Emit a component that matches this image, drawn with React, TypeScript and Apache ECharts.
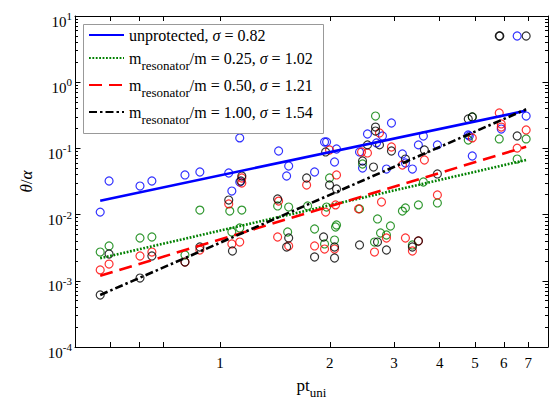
import React, { useEffect, useRef } from "react";
import * as echarts from "echarts";

// ---------- data ----------
const xRange = [0.4, 7.93];
const yRange = [1e-4, 10];
const xLabelValues = [1, 2, 3, 4, 5, 6, 7];
const xTickValues = [0.5, 0.6, 0.7, 1, 2, 3, 4, 5, 6, 7];
const yDecades = [-4, -3, -2, -1, 0, 1];
const yMinorMultipliers = [2, 3, 4, 5, 6, 7, 8, 9];

const unprotectedPts: [number, number][] = [
  [0.469, 0.0109], [0.496, 0.0322], [0.603, 0.027], [0.65, 0.0322], [0.801, 0.0397],
  [0.88, 0.044], [1.056, 0.0425], [1.077, 0.0227], [1.132, 0.144], [1.132, 0.0311],
  [1.447, 0.0914], [1.542, 0.0542], [1.522, 0.0383], [1.816, 0.044], [1.934, 0.125],
  [1.959, 0.125], [2.086, 0.098], [2.06, 0.0623], [2.412, 0.0883], [2.458, 0.0505],
  [2.536, 0.165], [2.685, 0.121], [2.788, 0.154], [2.859, 0.0488], [2.951, 0.242],
  [3.162, 0.0823], [3.223, 0.0602], [3.368, 0.0488], [3.498, 0.113], [3.61, 0.154],
  [3.944, 0.113], [4.824, 0.154], [4.79, 0.16], [4.916, 0.0768], [5.903, 0.196],
  [6.908, 0.308], [6.527, 4.99],
];
const ratio025Pts: [number, number][] = [
  [0.469, 0.00272], [0.496, 0.00336], [0.603, 0.00443], [0.65, 0.00459], [0.801, 0.00245],
  [0.88, 0.0117], [1.063, 0.0113], [1.147, 0.0117], [1.077, 0.00546], [1.132, 0.00628],
  [1.438, 0.0135], [1.542, 0.013], [1.532, 0.00546], [1.738, 0.0135], [1.816, 0.00606],
  [1.959, 0.013], [1.996, 0.0357], [1.934, 0.0036], [2.06, 0.00413], [2.073, 0.0065],
  [2.086, 0.00697], [2.412, 0.0122], [2.458, 0.0581], [2.651, 0.00385], [2.668, 0.308],
  [2.702, 0.00859], [2.754, 0.00527], [2.859, 0.00492], [2.932, 0.00673], [3.162, 0.0113],
  [3.223, 0.0126], [3.368, 0.00348], [3.498, 0.014], [3.61, 0.0311], [3.944, 0.015],
  [4.793, 0.134], [4.916, 0.298], [5.829, 0.139], [6.527, 0.0691], [6.908, 0.139],
];
const ratio050Pts: [number, number][] = [
  [0.469, 0.00146], [0.496, 0.00179], [0.603, 0.00237], [0.65, 0.00272], [0.801, 0.00192],
  [0.88, 0.00292], [1.056, 0.0145], [1.077, 0.0036], [1.132, 0.00385], [1.147, 0.0357],
  [1.147, 0.03], [1.438, 0.00459], [1.447, 0.016], [1.542, 0.00336], [1.727, 0.028],
  [1.816, 0.00336], [1.934, 0.00302], [1.947, 0.0109], [1.996, 0.0946], [2.073, 0.014],
  [2.086, 0.0397], [2.06, 0.00302], [2.397, 0.0122], [2.443, 0.0883], [2.536, 0.0853],
  [2.651, 0.00272], [2.736, 0.171], [2.771, 0.0155], [2.859, 0.00443], [2.951, 0.105],
  [3.162, 0.0561], [3.223, 0.00443], [3.368, 0.00282], [3.498, 0.00399], [3.633, 0.0668],
  [3.944, 0.0198], [4.916, 0.144], [5.829, 0.343], [5.903, 0.234], [5.903, 0.21],
  [6.527, 0.101], [6.908, 0.19],
];
const ratio100Pts: [number, number][] = [
  [0.469, 0.00061], [0.496, 0.00254], [0.603, 0.0011], [0.65, 0.00237], [0.801, 0.00192],
  [0.88, 0.00324], [1.056, 0.0166], [1.081, 0.00282], [1.147, 0.0383], [1.14, 0.0322],
  [1.438, 0.0172], [1.542, 0.00443], [1.522, 0.00324], [1.727, 0.0357], [1.816, 0.00229],
  [1.922, 0.00459], [1.947, 0.0883], [1.996, 0.028], [2.086, 0.0244], [2.06, 0.00324],
  [2.06, 0.00221], [2.412, 0.00348], [2.458, 0.0645], [2.536, 0.113], [2.634, 0.0523],
  [2.668, 0.21], [2.668, 0.183], [2.702, 0.00385], [2.736, 0.113], [2.859, 0.00292],
  [2.951, 0.0914], [3.223, 0.0691], [3.368, 0.00324], [3.498, 0.00399], [3.633, 0.0946],
  [3.944, 0.0411], [4.793, 0.278], [4.916, 0.298], [5.829, 4.99], [5.85, 4.99],
  [6.527, 0.154], [6.908, 4.99],
];

const fitX = [0.469, 6.908];
const fitUnprotected = [0.0162, 0.372];
const fitRatio025 = [0.00219, 0.0668];
const fitRatio050 = [0.00119, 0.106];
const fitRatio100 = [0.00061, 0.39];

const legendRatios = ["", "0.25", "0.50", "1.00"];
const legendSigmas = ["0.82", "1.02", "1.21", "1.54"];
const legendNames = [
  "unprotected, σ = 0.82",
  "m_resonator/m = 0.25, σ = 1.02",
  "m_resonator/m = 0.50, σ = 1.21",
  "m_resonator/m = 1.00, σ = 1.54",
];

// ---------- chart ----------
const SERIF = "Liberation Serif, Times New Roman, DejaVu Serif, serif";
const lg = (v: number) => Math.log10(v);

export default function App() {
  const ref = useRef<HTMLDivElement>(null);

  useEffect(() => {
    if (!ref.current) return;
    const chart = echarts.init(ref.current, undefined, { renderer: "svg" });

    const xMin = lg(xRange[0]);
    const xMax = lg(xRange[1]);
    const yMin = lg(yRange[0]);
    const yMax = lg(yRange[1]);

    const yMinorValues: number[] = [];
    yDecades.slice(0, -1).forEach((d) => {
      yMinorMultipliers.forEach((m) => yMinorValues.push(lg(m * Math.pow(10, d))));
    });

    const axisLine = { show: true, onZero: false, lineStyle: { color: "#000", width: 1 } };
    const noLine = { show: false, onZero: false };

    const xBase = {
      type: "value",
      min: xMin,
      max: xMax,
      axisLine,
      splitLine: { show: false },
      axisTick: {
        show: true,
        inside: true,
        length: 5,
        customValues: xTickValues.map(lg),
        lineStyle: { color: "#000", width: 1 },
      },
    };

    const yBase = {
      type: "value",
      min: yMin,
      max: yMax,
      interval: 1,
      splitLine: { show: false },
    };

    const yMajorTick = {
      show: true,
      inside: true,
      length: 5.5,
      customValues: yDecades,
      lineStyle: { color: "#000", width: 1 },
    };
    const yMinorTick = {
      show: true,
      inside: true,
      length: 3,
      customValues: yMinorValues,
      lineStyle: { color: "#000", width: 1 },
    };

    const toPairs = (pts: [number, number][]) => pts.map(([x, y]) => [lg(x), lg(y)]);
    const fitLine = (ys: number[]) => [
      [lg(fitX[0]), lg(ys[0])],
      [lg(fitX[1]), lg(ys[1])],
    ];

    const scatter = (pts: [number, number][], color: string) => ({
      type: "scatter",
      xAxisIndex: 0,
      yAxisIndex: 0,
      data: toPairs(pts),
      symbol: "circle",
      symbolSize: 8,
      silent: true,
      z: 2,
      itemStyle: { color: "rgba(0,0,0,0)", borderColor: color, borderWidth: 1.2 },
    });

    const line = (name: string, ys: number[], color: string, type: any) => ({
      type: "line",
      name,
      xAxisIndex: 0,
      yAxisIndex: 0,
      data: fitLine(ys),
      symbol: "none",
      showSymbol: false,
      silent: true,
      z: 3,
      lineStyle: { color, width: 2.6, type, cap: "butt" },
      itemStyle: { color },
    });

    const legendRich = {
      a: { fontFamily: SERIF, fontSize: 16, color: "#000", lineHeight: 18, verticalAlign: "middle" },
      ai: { fontFamily: SERIF, fontSize: 16, color: "#000", fontStyle: "italic", lineHeight: 18, verticalAlign: "middle" },
      t: { fontFamily: SERIF, fontSize: 16, color: "#000", lineHeight: 28, verticalAlign: "middle" },
      ti: { fontFamily: SERIF, fontSize: 16, color: "#000", fontStyle: "italic", lineHeight: 28, verticalAlign: "middle" },
      s: { fontFamily: SERIF, fontSize: 13, color: "#000", lineHeight: 10, verticalAlign: "bottom" },
    };
    const legendRowCenters = [38, 61, 88, 115];

    const legends = legendNames.map((n, i) => ({
      data: [n],
      orient: "vertical",
      left: 88,
      top: legendRowCenters[i] - 15,
      padding: 0,
      itemGap: 0,
      itemWidth: 35,
      itemHeight: 30,
      selectedMode: false,
      z: 5,
      itemStyle: { opacity: 0, borderWidth: 0 },
      textStyle: { fontFamily: SERIF, fontSize: 16, color: "#000", rich: legendRich },
      formatter: (name: string) => {
        const k = legendNames.indexOf(name);
        if (k <= 0) return `{a|unprotected, }{ai|σ}{a| = ${legendSigmas[0]}}`;
        return `{t|m}{s|resonator}{t|/m = ${legendRatios[k]}, }{ti|σ}{t| = ${legendSigmas[k]}}`;
      },
    }));

    const option: any = {
      animation: false,
      backgroundColor: "#fff",
      textStyle: { fontFamily: SERIF },
      grid: { left: 75, right: 4, top: 16, bottom: 52, containLabel: false, outerBoundsMode: "none" },
      graphic: [
        {
          type: "rect",
          z: 4,
          silent: true,
          shape: { x: 83.5, y: 24.5, width: 240, height: 109 },
          style: { fill: "#fff", stroke: "#999", lineWidth: 1 },
        },
      ],
      xAxis: [
        {
          ...xBase,
          position: "bottom",
          axisLabel: {
            show: true,
            customValues: xLabelValues.map(lg),
            formatter: (v: number) => String(Math.round(Math.pow(10, v))),
            color: "#000",
            fontFamily: SERIF,
            fontSize: 15,
            margin: 8,
          },
          name: "{t|pt}{s|uni}",
          nameLocation: "middle",
          nameGap: 24,
          nameTextStyle: {
            color: "#000",
            fontFamily: SERIF,
            rich: {
              t: { fontFamily: SERIF, fontSize: 17, color: "#000", lineHeight: 28, verticalAlign: "middle" },
              s: { fontFamily: SERIF, fontSize: 13, color: "#000", lineHeight: 14, verticalAlign: "bottom" },
            },
          },
        },
        {
          ...xBase,
          position: "top",
          axisLabel: { show: false },
        },
      ],
      yAxis: [
        {
          ...yBase,
          position: "left",
          axisLine,
          axisTick: yMajorTick,
          axisLabel: {
            show: true,
            formatter: (v: number) => `{b|10}{s|${Math.round(v)}}`,
            margin: 3,
            color: "#000",
            fontFamily: SERIF,
            rich: {
              b: { fontFamily: SERIF, fontSize: 15, color: "#000", lineHeight: 16, verticalAlign: "bottom" },
              s: { fontFamily: SERIF, fontSize: 11, color: "#000", lineHeight: 26, verticalAlign: "middle" },
            },
          },
          name: "{i|θ}{t|/}{i|α}",
          nameLocation: "middle",
          nameGap: 40,
          nameTextStyle: {
            color: "#000",
            fontFamily: SERIF,
            rich: {
              i: { fontFamily: SERIF, fontSize: 17, fontStyle: "italic", color: "#000" },
              t: { fontFamily: SERIF, fontSize: 17, color: "#000" },
            },
          },
        },
        {
          ...yBase,
          position: "left",
          axisLine: noLine,
          axisTick: yMinorTick,
          axisLabel: { show: false },
        },
        {
          ...yBase,
          position: "right",
          axisLine,
          axisTick: yMajorTick,
          axisLabel: { show: false },
        },
        {
          ...yBase,
          position: "right",
          axisLine: noLine,
          axisTick: yMinorTick,
          axisLabel: { show: false },
        },
      ],
      legend: legends,
      series: [
        scatter(unprotectedPts, "#0000ff"),
        scatter(ratio025Pts, "#008000"),
        scatter(ratio050Pts, "#ff0000"),
        scatter(ratio100Pts, "#000000"),
        line(legendNames[0], fitUnprotected, "#0000ff", "solid"),
        line(legendNames[1], fitRatio025, "#008000", [1.8, 1.6]),
        line(legendNames[2], fitRatio050, "#ff0000", [13, 7]),
        line(legendNames[3], fitRatio100, "#000000", [8, 3, 2.5, 3]),
      ],
    };

    chart.setOption(option);
    return () => chart.dispose();
  }, []);

  return (
    <div
      ref={ref}
      style={{ position: "absolute", left: 0, top: 0, width: 552, height: 399 }}
    />
  );
}
